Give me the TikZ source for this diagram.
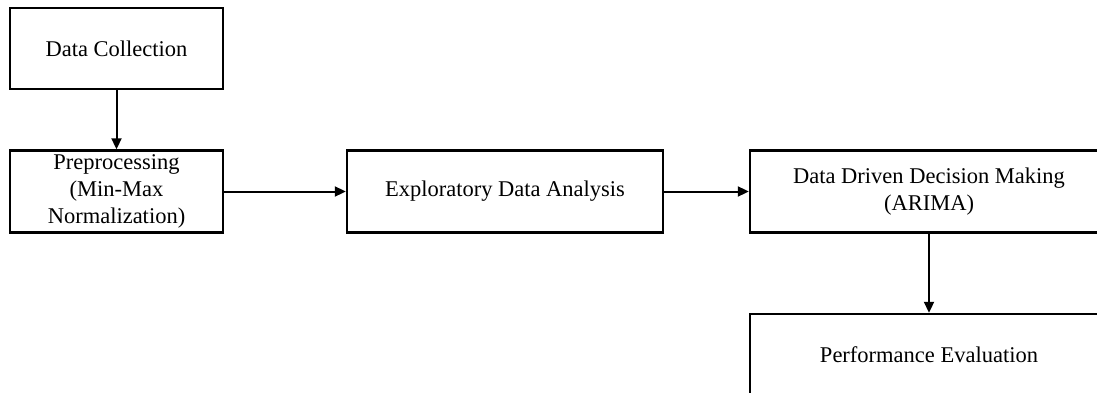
\documentclass[tikz,border=0pt]{standalone}
\usepackage{fontspec}
\setmainfont{Liberation Serif}
\usetikzlibrary{arrows.meta}

\begin{document}
\begin{tikzpicture}[x=1pt,y=-1pt,font=\fontsize{22.5}{27}\selectfont,
  stage/.style={draw,line width=2.4pt,align=center,inner sep=0pt,minimum height=82pt},
  flow/.style={line width=2pt,-{Triangle[length=11pt,width=10pt]}}]
  \useasboundingbox (0,0) rectangle (1097,393);
  \node[stage,minimum width=213pt,minimum height=81pt] (collect) at (116.5,48.5) {Data Collection};
  \node[stage,minimum width=213pt] (prep) at (116.5,191.5) {Preprocessing\\(Min-Max\\Normalization)};
  \node[stage,minimum width=316pt] (eda) at (505,191.5) {Exploratory Data Analysis};
  \node[stage,minimum width=358pt] (ddm) at (929,191.5) {Data Driven Decision Making\\(ARIMA)};
  \node[stage,minimum width=358pt] (perf) at (929,355) {Performance Evaluation};
  \draw[flow] (collect) -- (prep);
  \draw[flow] (prep) -- (eda);
  \draw[flow] (eda) -- (ddm);
  \draw[flow] (ddm) -- (perf);
\end{tikzpicture}
\end{document}
